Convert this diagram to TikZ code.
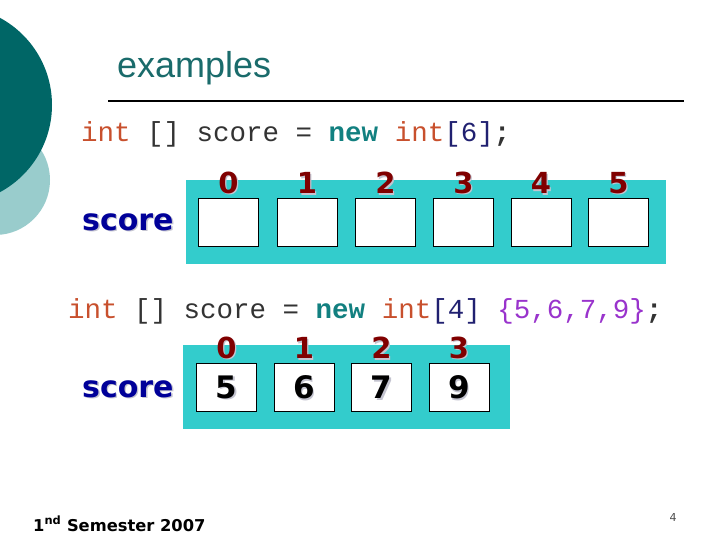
\documentclass[tikz,border=0pt]{standalone}
\usepackage{fontspec}
\usepackage{xcolor}
\usetikzlibrary{positioning}
\setmainfont{DejaVu Sans}
\newfontfamily\titlefont{Liberation Sans}
\newfontfamily\codefont{Liberation Mono}
\definecolor{slideteal}{HTML}{006666}
\definecolor{slidelight}{HTML}{99CCCC}
\definecolor{titleteal}{HTML}{1A6B6B}
\definecolor{arraycyan}{HTML}{33CCCC}
\definecolor{indexred}{HTML}{800000}
\definecolor{labelnavy}{HTML}{000099}
\definecolor{shadowgray}{HTML}{C4C4D0}
\definecolor{kwred}{HTML}{C8502D}
\definecolor{kwteal}{HTML}{128080}
\definecolor{sizenavy}{HTML}{202070}
\definecolor{initpurple}{HTML}{9933CC}
\newcommand{\shd}[2]{\makebox[0pt][l]{\hspace*{1.3pt}\raisebox{-1.3pt}[0pt][0pt]{\color{shadowgray}#2}}{\color{#1}#2}}
\tikzset{
  titletext/.style={
    font=\titlefont\fontsize{36}{40}\selectfont,
    text=titleteal,
    inner sep=0pt
  },
  code/.style={
    font=\codefont\fontsize{27.5}{30}\selectfont,
    text=black!80,
    inner sep=0pt
  },
  arrname/.style={
    font=\bfseries\fontsize{30}{34}\selectfont,
    inner sep=0pt
  },
  cell/.style={
    draw=black,
    fill=white,
    line width=1pt,
    minimum width=60pt,
    minimum height=48pt,
    inner sep=0pt,
    font=\bfseries\fontsize{31}{34}\selectfont
  },
  idx/.style={
    font=\bfseries\fontsize{29}{32}\selectfont,
    inner sep=0pt
  },
  footer/.style={
    font=\bfseries\fontsize{16.3}{18}\selectfont,
    inner sep=0pt
  }
}
\begin{document}
\begin{tikzpicture}[x=1pt,y=-1pt]
\useasboundingbox (0,0) rectangle (720,540);
\clip (0,0) rectangle (720,540);

% decoration on the left
\fill[slidelight] (-5,180) circle[radius=55pt];
\fill[slideteal] (-47,105) circle[radius=99pt];

\node[titletext, anchor=base west] (title) at (117,78) {examples};
\draw[line width=2pt] (108,101) -- (684,101);

% first example
\node[code, anchor=base west] (line1) at (81,142)
  {\textcolor{kwred}{int} [] score = \textcolor{kwteal}{\bfseries new} \textcolor{kwred}{int}\textcolor{sizenavy}{[6]}\textbf{;}};

\fill[arraycyan] (186,180) rectangle (666,264);

\node[cell, anchor=north west] (a0) at (198,198) {};
\node[cell, anchor=north west] (a1) at (276.5,198) {};
\node[cell, anchor=north west] (a2) at (355,198) {};
\node[cell, anchor=north west] (a3) at (433,198) {};
\node[cell, anchor=north west] (a4) at (510.5,198) {};
\node[cell, anchor=north west] (a5) at (588,198) {};

\node[idx, above=4pt of a0] (i0) {\shd{indexred}{0}};
\node[idx, above=4pt of a1] (i1) {\shd{indexred}{1}};
\node[idx, above=4pt of a2] (i2) {\shd{indexred}{2}};
\node[idx, above=4pt of a3] (i3) {\shd{indexred}{3}};
\node[idx, above=4pt of a4] (i4) {\shd{indexred}{4}};
\node[idx, above=4pt of a5] (i5) {\shd{indexred}{5}};

\node[arrname, anchor=base west] (name1) at (82,230) {\shd{labelnavy}{score}};

% second example
\node[code, anchor=base west] (line2) at (68,318)
  {\textcolor{kwred}{int} [] score = \textcolor{kwteal}{\bfseries new} \textcolor{kwred}{int}\textcolor{sizenavy}{[4]} \textcolor{initpurple}{\{5,6,7,9\}}\textbf{;}};

\fill[arraycyan] (183,345) rectangle (510,429);

\node[cell, anchor=north west] (b0) at (196,363) {\shd{black}{5}};
\node[cell, anchor=north west] (b1) at (273.5,363) {\shd{black}{6}};
\node[cell, anchor=north west] (b2) at (351,363) {\shd{black}{7}};
\node[cell, anchor=north west] (b3) at (428.5,363) {\shd{black}{9}};

\node[idx, above=4pt of b0] (j0) {\shd{indexred}{0}};
\node[idx, above=4pt of b1] (j1) {\shd{indexred}{1}};
\node[idx, above=4pt of b2] (j2) {\shd{indexred}{2}};
\node[idx, above=4pt of b3] (j3) {\shd{indexred}{3}};

\node[arrname, anchor=base west] (name2) at (82,397) {\shd{labelnavy}{score}};

% footer
\node[footer, anchor=base west] (semester) at (33,531) {1\textsuperscript{nd} Semester 2007};
\node[font=\fontsize{11}{12}\selectfont, text=black!70, inner sep=0pt] (page) at (673,517) {4};

\end{tikzpicture}
\end{document}
